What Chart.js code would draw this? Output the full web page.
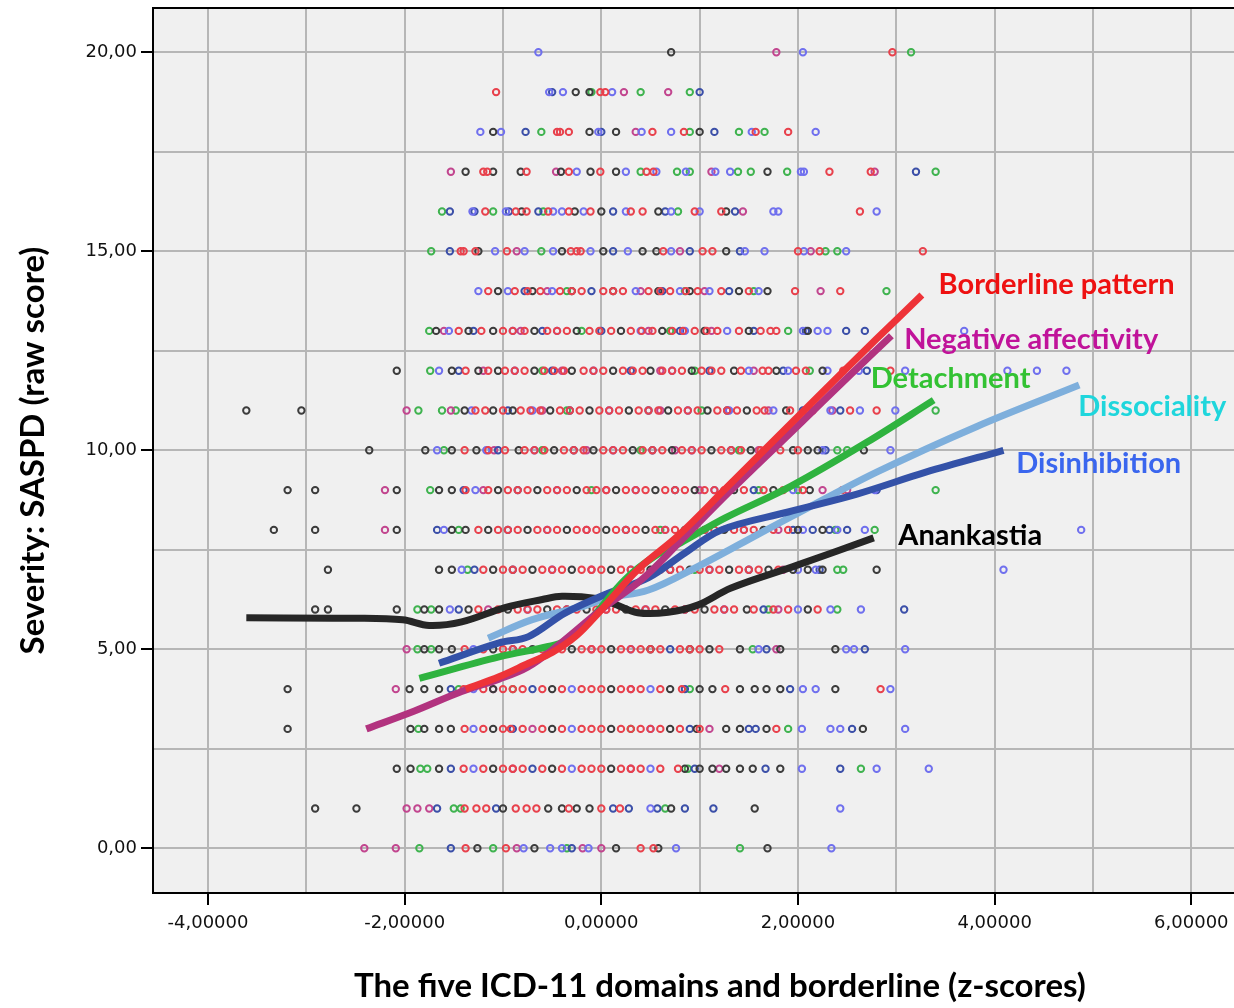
<!DOCTYPE html>
<html>
<head>
<meta charset="utf-8">
<title>SASPD severity vs ICD-11 domains</title>
<script src="https://cdn.jsdelivr.net/npm/chart.js@4.4.1/dist/chart.umd.min.js"></script>
<style>
  html, body { margin: 0; padding: 0; background: #fff; overflow: hidden; }
</style>
</head>
<body>
<canvas id="myChart" width="1292" height="1008"></canvas>
<script>
// scatter points: [severity, [z-scores...]] per domain
const borderlinePts = [
  [20, [2.96]],
  [19, [-1.07, -0.01, 0.04]],
  [18, [-0.45, -0.42, -0.33, 0.52, 0.84, 1.57, 1.9]],
  [17, [-1.2, -1.16, -0.76, -0.33, -0.01, 0.46, 0.53, 2.32, 2.74]],
  [16, [-1.18, -0.87, -0.76, -0.54, -0.33, -0.11, 0.3, 0.42, 0.95, 1.22, 2.63]],
  [15, [-1.43, -1.4, -1.28, -0.96, -0.31, -0.25, -0.21, 0.63, 1.03, 1.13, 2.0, 2.22, 3.27]],
  [14, [-1.15, -0.88, -0.62, -0.42, -0.2, 0.02, 0.22, 0.48, 0.7, 0.98, 1.22, 1.5, 1.97, 2.43, -0.75, -0.3, 0.12, 0.6, 0.86]],
  [13, [-1.45, -1.22, -1.0, -0.78, -0.55, -0.35, -0.12, 0.1, 0.3, 0.52, 0.72, 0.95, 1.18, 1.4, 1.62, 1.72, 1.78, -0.9, -0.45, -0.02, 0.41, 0.83, 1.07]],
  [12, [-1.38, -1.15, -0.98, -0.78, -0.58, -0.38, -0.18, 0.02, 0.22, 0.42, 0.62, 0.82, 1.02, 1.22, 1.42, 1.64, 1.7, 1.98, 2.08, 2.46, 2.94, -0.88, -0.48, -0.08, 0.32, 0.72, 1.12]],
  [11, [-1.28, -1.18, -1.0, -0.82, -0.62, -0.42, -0.22, -0.02, 0.18, 0.38, 0.58, 0.78, 0.98, 1.18, 1.38, 1.58, 1.66, 1.92, 2.15, 2.53, 2.8, -0.72, -0.32, 0.08, 0.48, 0.88, 1.28]],
  [10, [-1.39, -0.98, -0.78, -0.58, -0.38, -0.18, 0.02, 0.22, 0.42, 0.62, 0.82, 1.02, 1.22, 1.42, 1.62, 1.82, 2.0, -1.15, -0.68, -0.28, 0.12, 0.52, 0.92, 1.32]],
  [9, [-1.38, -1.15, -0.95, -0.75, -0.55, -0.35, -0.15, 0.05, 0.25, 0.45, 0.65, 0.85, 1.05, 1.25, 1.45, 1.65, 1.85, 2.05, 2.45, -0.85, -0.45, -0.05, 0.35, 0.75, 1.15]],
  [8, [-1.25, -1.05, -0.85, -0.65, -0.45, -0.25, -0.05, 0.15, 0.35, 0.55, 0.75, 0.95, 1.15, 1.35, 1.55, 1.75, 1.9, -0.95, -0.55, -0.15, 0.25, 0.65, 1.05, 1.45]],
  [7, [-1.2, -1.0, -0.8, -0.6, -0.4, -0.2, 0.0, 0.2, 0.4, 0.6, 0.8, 1.0, 1.2, 1.4, 1.6, 1.8, -0.9, -0.5, -0.1, 0.3, 0.7, 1.1, 1.5]],
  [6, [-1.25, -1.05, -0.85, -0.65, -0.45, -0.25, -0.05, 0.15, 0.35, 0.55, 0.75, 0.95, 1.15, 1.35, 1.55, 1.75, 1.9, 2.2, -0.75, -0.35, 0.05, 0.45, 0.85, 1.25]],
  [5, [-1.39, -1.2, -1.0, -0.8, -0.6, -0.4, -0.2, 0.0, 0.2, 0.4, 0.6, 0.8, 1.0, 1.2, -0.9, -0.5, -0.1, 0.3, 0.5, 0.9]],
  [4, [-1.4, -1.2, -1.0, -0.8, -0.6, -0.4, -0.2, 0.0, 0.2, 0.4, 0.6, 1.26, 2.84, -0.9, -0.1, 0.3, 0.82]],
  [3, [-1.39, -1.2, -1.0, -0.8, -0.6, -0.4, -0.2, 0.0, 0.2, 0.4, 0.6, 0.8, 1.0, 1.78, -0.92, -0.1, 0.3, 0.5]],
  [2, [-1.4, -1.2, -1.0, -0.8, -0.6, -0.4, -0.2, 0.0, 0.2, 0.4, 0.6, 0.78, -0.9, -0.1, 0.3]],
  [1, [-1.39, -1.27, -1.17, -0.87, -0.76, -0.66, -0.33, 0.0, 0.19]],
  [0, [-1.38, -0.97, 0.4, 0.53]]
]
const negAffPts = [
  [20, [1.78]],
  [19, [0.23, 0.68]],
  [18, [0.35]],
  [17, [-1.53, -0.46, 1.12, 2.78]],
  [16, [1.44]],
  [15, [-0.86, 0.8, 2.13]],
  [14, [-0.55, 0.4, 1.05, 2.23]],
  [13, [-1.6, -0.82, 0.48, 1.12]],
  [12, [-1.2, -0.4, 0.6, 1.55]],
  [11, [-1.98, -1.53, -0.6, 0.6, 1.7, 2.35]],
  [10, [-1.09, -0.15, 0.75, 1.6]],
  [9, [-2.2, -1.2, 0.05, 1.0, 2.25, 2.5]],
  [8, [-2.2, -0.15, 1.8]],
  [7, [-0.1, 1.85]],
  [6, [-1.15, 0.05, 1.8]],
  [5, [-1.98, -0.1, 1.78]],
  [4, [-2.09, -1.1, 0.3]],
  [3, [-0.7, 1.1]],
  [2, [-0.9, 0.3, 1.2]],
  [1, [-1.98, -1.87, -1.75]],
  [0, [-2.41, -2.09, -0.86, -0.19, 0.0]]
]
const detachmentPts = [
  [20, [3.15]],
  [19, [-0.1, 0.4, 0.9]],
  [18, [-0.61, 0.9, 1.4, 1.66]],
  [17, [0.4, 0.77, 0.9, 1.39, 1.52, 1.89, 3.4]],
  [16, [-1.62, -1.1, -0.59, 0.78]],
  [15, [-1.73, -0.61, 2.28, 2.4]],
  [14, [-0.35, 0.85, 1.55, 2.9]],
  [13, [-1.75, -0.2, 0.7, 1.9]],
  [12, [-1.74, -0.6, 0.95, 2.12]],
  [11, [-1.86, -1.62, -1.48, -0.35, 1.02, 3.4]],
  [10, [-1.6, -0.6, 0.4, 1.4, 2.4, 2.5]],
  [9, [-1.74, -0.1, 1.6, 2.0, 3.4]],
  [8, [-1.45, 0.6, 2.38, 2.78]],
  [7, [-1.36, 0.95, 2.4, 2.46]],
  [6, [-1.87, -1.73, 1.7, 2.4]],
  [5, [-1.87, -1.73, 1.54]],
  [4, [-1.45, -0.9, 0.9]],
  [3, [-1.86, 0.3, 1.9]],
  [2, [-1.84, -1.77, 0.88, 2.64]],
  [1, [-1.5, -1.43, 0.65]],
  [0, [-1.85, -1.1, -0.35, 1.41]]
]
const dissocialityPts = [
  [20, [-0.64, 2.05]],
  [19, [-0.53, -0.39, 0.11]],
  [18, [-1.23, -1.02, -0.03, 0.41, 0.71, 1.53, 2.18]],
  [17, [-0.25, 0.25, 0.56, 0.86, 1.16, 1.31, 2.03, 2.06]],
  [16, [-1.31, -0.97, -0.49, -0.4, -0.18, 0.25, 0.71, 1.0, 1.75, 1.8, 2.8]],
  [15, [-1.08, -0.78, -0.49, -0.11, 0.27, 0.71, 1.46, 1.66, 2.06, 2.49]],
  [14, [-1.25, -0.95, -0.5, 0.35, 0.8, 1.1, 1.6]],
  [13, [-1.55, -0.9, -0.45, 0.4, 0.85, 1.28, 2.05, 2.2, 2.3, 3.69]],
  [12, [-1.65, -0.88, -0.08, 0.72, 1.5, 1.9, 2.3, 2.62, 3.09, 4.13, 4.43, 4.73]],
  [11, [-1.32, -0.7, 0.08, 0.88, 1.3, 1.75, 2.33, 2.63, 2.99]],
  [10, [-1.67, -1.17, -0.68, 0.12, 0.92, 1.7, 2.25, 2.94]],
  [9, [-1.28, -0.45, 0.35, 1.15, 1.95, 2.78]],
  [8, [-1.6, -0.55, 0.65, 1.45, 2.05, 2.4, 2.68, 4.88]],
  [7, [-1.42, -0.5, 0.3, 1.1, 2.0, 2.18, 4.09]],
  [6, [-1.54, -0.75, 0.45, 1.25, 2.0, 2.33, 2.64]],
  [5, [-1.3, -0.5, 0.3, 1.6, 2.49, 2.57, 3.09]],
  [4, [-1.3, -0.3, 0.5, 2.05, 2.18, 2.94]],
  [3, [-1.3, -0.3, 0.5, 2.04, 2.33, 2.43, 3.09]],
  [2, [-1.3, -0.3, 0.5, 2.04, 2.8, 3.33]],
  [1, [0.5, 2.43]],
  [0, [-0.79, -0.52, -0.4, -0.13, 0.76, 2.34]]
]
const disinhibitionPts = [
  [19, [-0.5, 1.0]],
  [18, [-0.77, 0.0, 1.15]],
  [17, [3.2]],
  [16, [-1.54, -1.29, -0.94, -0.64, 0.12, 0.65, 1.36]],
  [15, [-1.54, 0.12, 0.9, 1.41]],
  [14, [-0.78, -0.1, 0.62, 1.3]],
  [13, [-1.3, -0.6, 0.0, 0.8, 1.55, 2.08, 2.49, 2.68]],
  [12, [-1.45, -0.5, 0.3, 1.1, 1.85, 2.7]],
  [11, [-0.95, -0.32, 0.48, 1.28, 2.05, 2.43]],
  [10, [-1.05, -0.28, 0.52, 1.32, 2.28]],
  [9, [-1.4, -0.85, 0.75, 1.55, 2.8]],
  [8, [-1.67, -0.95, 0.25, 1.05, 1.95, 2.15, 2.32, 2.5]],
  [7, [-1.29, -0.9, 0.7, 1.5, 2.22]],
  [6, [-1.45, -0.35, 0.85, 1.65, 3.08]],
  [5, [-0.9, 0.7, 1.68, 2.68]],
  [4, [-1.53, -0.7, 0.85, 1.92]],
  [3, [-0.9, 0.9, 1.5, 1.57, 2.55]],
  [2, [-1.53, -0.7, 0.95, 1.67, 2.43]],
  [1, [-1.67, -1.07, 0.12, 0.28, 0.57, 0.85, 1.14]],
  [0, [-1.53, -0.3]]
]
const anankastiaPts = [
  [20, [0.71]],
  [19, [-0.26, -0.12]],
  [18, [-1.1, -0.12, 0.15, 1.0]],
  [17, [-1.38, -1.1, -0.82, -0.41, -0.11, 0.15, 1.69]],
  [16, [-0.81, -0.27, 0.0, 0.58, 1.27]],
  [15, [-1.25, -0.4, 0.02, 0.42, 0.56, 1.27]],
  [14, [-1.05, -0.7, -0.3, 0.12, 0.58, 0.9, 1.4, 1.69]],
  [13, [-1.68, -1.35, -1.1, -0.68, -0.25, 0.2, 0.62, 1.05, 1.5, 2.1]],
  [12, [-2.08, -1.52, -1.25, -1.05, -0.68, -0.3, 0.12, 0.5, 0.92, 1.35, 1.78, 2.25]],
  [11, [-3.61, -3.05, -1.39, -1.1, -0.9, -0.52, -0.12, 0.28, 0.68, 1.08, 1.48, 1.88]],
  [10, [-2.36, -1.79, -1.52, -1.27, -0.84, -0.48, -0.08, 0.32, 0.72, 1.12, 1.52, 1.95, 2.1, 2.2, 2.67]],
  [9, [-3.19, -2.91, -2.08, -1.65, -1.52, -1.05, -0.65, -0.25, 0.15, 0.55, 0.95, 1.35, 1.75, 2.12]],
  [8, [-3.33, -2.91, -2.08, -1.52, -1.38, -1.15, -0.75, -0.35, 0.05, 0.45, 0.85, 1.25, 1.65, 2.0, 2.25]],
  [7, [-2.78, -1.65, -1.52, -1.1, -0.7, -0.3, 0.1, 0.5, 0.9, 1.3, 1.7, 1.95, 2.1, 2.25, 2.8]],
  [6, [-2.91, -2.78, -2.08, -1.8, -1.65, -1.35, -0.95, -0.55, -0.15, 0.25, 0.65, 1.05, 1.48, 2.1]],
  [5, [-1.8, -1.65, -1.52, -1.1, -0.7, -0.3, 0.1, 0.5, 0.9, 1.1, 1.41, 1.82, 2.38]],
  [4, [-3.19, -1.95, -1.8, -1.65, -1.1, -0.5, 0.1, 0.7, 1.0, 1.13, 1.41, 1.56, 1.68, 1.82, 2.38]],
  [3, [-3.19, -1.94, -1.8, -1.65, -1.53, -1.1, -0.5, 0.1, 0.7, 0.97, 1.27, 1.41, 1.68, 2.66]],
  [2, [-2.08, -1.94, -1.65, -1.1, -0.5, 0.1, 0.85, 1.0, 1.13, 1.27, 1.41, 1.54, 1.82]],
  [1, [-2.91, -2.49, -1.0, -0.54, -0.4, -0.25, -0.12, 0.71, 1.56]],
  [0, [-1.26, -0.68, 0.15, 0.58, 1.69]]
]

// fitted (loess) lines, [z, severity]
const borderlineFit = [[-1.38, 4.0], [-1.04, 4.31], [-0.74, 4.65], [-0.5, 4.92], [-0.25, 5.35], [-0.03, 5.91], [0.37, 7.0], [0.78, 7.85], [1.25, 9.0], [2.0, 10.85], [2.8, 12.8], [3.26, 13.9]]
const negAffFit = [[-2.39, 3.0], [-1.9, 3.45], [-1.42, 3.94], [-1.04, 4.25], [-0.75, 4.55], [-0.44, 5.1], [0.0, 6.0], [0.41, 6.75], [0.8, 7.7], [1.3, 8.95], [2.0, 10.62], [2.5, 11.82], [2.95, 12.88]]
const detachmentFit = [[-1.85, 4.27], [-1.04, 4.81], [-0.54, 5.07], [-0.37, 5.2], [-0.13, 5.7], [0.24, 6.75], [0.55, 7.35], [0.81, 7.68], [1.26, 8.3], [1.93, 9.1], [2.7, 10.2], [3.38, 11.26]]
const dissocialityFit = [[-1.15, 5.28], [-0.71, 5.74], [-0.2, 6.07], [0.07, 6.29], [0.48, 6.49], [0.98, 7.08], [1.49, 7.75], [1.93, 8.33], [2.8, 9.45], [3.82, 10.6], [4.86, 11.64]]
const disinhibitionFit = [[-1.65, 4.65], [-1.04, 5.16], [-0.74, 5.32], [-0.37, 5.91], [0.07, 6.41], [0.48, 6.8], [0.85, 7.42], [1.22, 8.0], [1.9, 8.45], [2.6, 8.9], [3.3, 9.45], [4.09, 10.0]]
const anankastiaFit = [[-3.61, 5.79], [-2.5, 5.78], [-2.02, 5.74], [-1.75, 5.6], [-1.42, 5.69], [-0.98, 6.05], [-0.6, 6.25], [-0.4, 6.33], [-0.03, 6.27], [0.12, 6.15], [0.37, 5.92], [0.68, 5.93], [0.98, 6.11], [1.32, 6.54], [2.0, 7.12], [2.77, 7.8]]

const labelNames = ['Borderline pattern', 'Negative affectivity', 'Detachment', 'Dissociality', 'Disinhibition', 'Anankastia']
const labelX = [3.43, 3.08, 2.74, 4.85, 4.22, 3.02]
const labelY = [13.93, 12.55, 11.57, 10.87, 9.43, 7.62]
const labelColors = ['#ee1111', '#c0139a', '#33c233', '#1fd6dc', '#3a66ee', '#000000']

const xTickValues = [-4, -3, -2, -1, 0, 1, 2, 3, 4, 5, 6]
const yTickValues = [0, 2.5, 5, 7.5, 10, 12.5, 15, 17.5, 20]

function rowsToPoints(rows) {
  return rows.flatMap(([y, xs]) => xs.map(x => ({x: x, y: y})))
}
function pairsToPoints(pairs) {
  return pairs.map(([x, y]) => ({x: x, y: y}))
}

function pointSet(rows, color, order) {
  return {
    data: rowsToPoints(rows),
    borderColor: color,
    backgroundColor: 'rgba(0,0,0,0)',
    pointRadius: 3.2,
    pointBorderWidth: 2,
    pointHoverRadius: 3.2,
    showLine: false,
    order: order
  }
}
function lineSet(pairs, color, order) {
  return {
    data: pairsToPoints(pairs),
    borderColor: color,
    backgroundColor: color,
    borderWidth: 7,
    pointRadius: 0,
    showLine: true,
    tension: 0.35,
    order: order
  }
}

const plotDecor = {
  id: 'plotDecor',
  beforeDraw(chart) {
    const {ctx, chartArea: a} = chart
    ctx.save()
    ctx.fillStyle = '#f0f0f0'
    ctx.fillRect(a.left, a.top, a.right - a.left, a.bottom - a.top)
    ctx.restore()
  },
  afterDraw(chart) {
    const {ctx, chartArea: a, scales} = chart
    ctx.save()
    ctx.strokeStyle = '#000'
    ctx.lineWidth = 2
    ctx.beginPath()
    ctx.moveTo(a.left - 1, a.top)
    ctx.lineTo(a.right, a.top)
    ctx.stroke()
    ctx.font = 'bold 29px Lato'
    ctx.textBaseline = 'alphabetic'
    ctx.textAlign = 'left'
    labelNames.forEach((name, i) => {
      ctx.fillStyle = labelColors[i]
      ctx.fillText(name, scales.x.getPixelForValue(labelX[i]), scales.y.getPixelForValue(labelY[i]))
    })
    ctx.restore()
  }
}

const ctx = document.getElementById('myChart')

var myChart = new Chart(ctx, {
  type: 'scatter',
  data: {
    datasets: [
      lineSet(borderlineFit, '#ee3338', 0),
      lineSet(negAffFit, '#b2337f', 1),
      lineSet(detachmentFit, '#2fb33f', 2),
      lineSet(disinhibitionFit, '#3452a8', 3),
      lineSet(dissocialityFit, '#7eafdc', 4),
      lineSet(anankastiaFit, '#262626', 5),
      pointSet(borderlinePts, '#e8414c', 6),
      pointSet(anankastiaPts, '#3c3c3c', 7),
      pointSet(dissocialityPts, '#7070ee', 8),
      pointSet(disinhibitionPts, '#3b4fa8', 9),
      pointSet(negAffPts, '#c2468f', 10),
      pointSet(detachmentPts, '#3fb34f', 11)
    ]
  },
  options: {
    responsive: false,
    animation: false,
    events: [],
    layout: { padding: { top: 8, left: 0, right: 1, bottom: 0 } },
    plugins: {
      legend: { display: false },
      tooltip: { enabled: false }
    },
    scales: {
      x: {
        type: 'linear',
        min: -4.559,
        max: 6.971,
        afterBuildTicks: (scale) => { scale.ticks = xTickValues.map(v => ({value: v})) },
        afterFit: (scale) => { scale.height = 115; scale.paddingLeft = 0; scale.paddingRight = 0 },
        grid: {
          color: '#b6b6b6',
          lineWidth: 2,
          drawTicks: true,
          tickLength: 12,
          tickWidth: 2,
          tickColor: (c) => (c.tick && c.tick.value % 2 === 0) ? '#000' : 'rgba(0,0,0,0)'
        },
        border: { display: true, color: '#000', width: 2 },
        ticks: {
          autoSkip: false,
          maxRotation: 0,
          padding: 8,
          color: '#111',
          font: { family: 'DejaVu Sans', size: 18 },
          callback: (v) => v % 2 === 0 ? v.toFixed(5).replace('.', ',') : ''
        },
        title: {
          display: true,
          text: 'The five ICD-11 domains and borderline (z-scores)',
          color: '#000',
          font: { family: 'Lato', size: 33, weight: 'bold' },
          padding: { top: 0, bottom: 2 }
        }
      },
      y: {
        type: 'linear',
        min: -1.123,
        max: 21.113,
        afterBuildTicks: (scale) => { scale.ticks = yTickValues.map(v => ({value: v})) },
        afterFit: (scale) => { scale.width = 153; scale.paddingTop = 0; scale.paddingBottom = 0 },
        grid: {
          color: '#b6b6b6',
          lineWidth: 2,
          drawTicks: true,
          tickLength: 12,
          tickWidth: 2,
          tickColor: (c) => (c.tick && c.tick.value % 5 === 0) ? '#000' : 'rgba(0,0,0,0)'
        },
        border: { display: true, color: '#000', width: 2 },
        ticks: {
          autoSkip: false,
          padding: 4,
          color: '#111',
          font: { family: 'DejaVu Sans', size: 18 },
          callback: (v) => v % 5 === 0 ? v.toFixed(2).replace('.', ',') : ''
        },
        title: {
          display: true,
          text: 'Severity: SASPD (raw score)',
          color: '#000',
          font: { family: 'Lato', size: 33, weight: 'bold' },
          padding: { top: 14, bottom: 0 }
        }
      }
    }
  },
  plugins: [plotDecor]
})
</script>
</body>
</html>
